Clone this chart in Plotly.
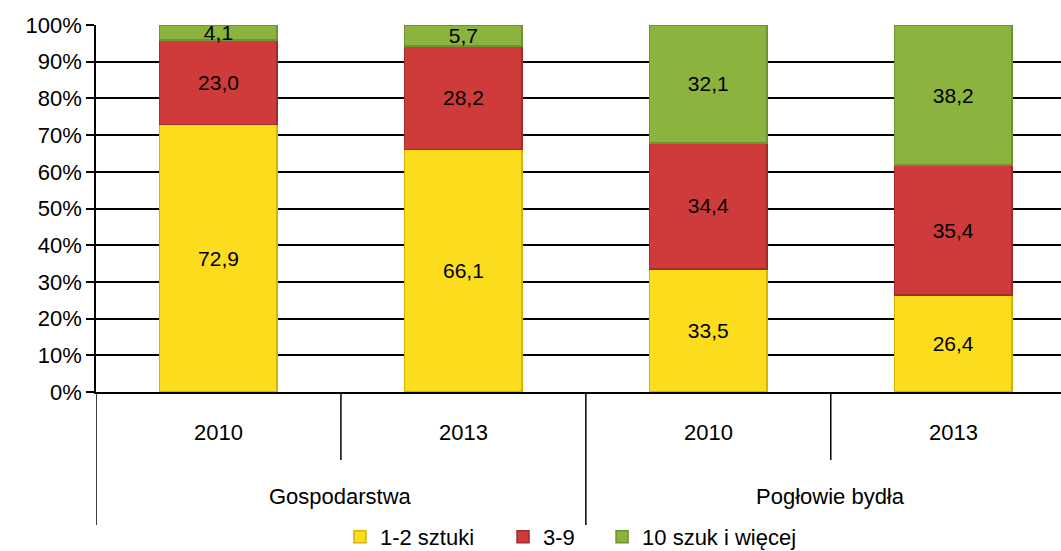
import plotly.graph_objects as go

groups = ["Gospodarstwa", "Pogłowie bydła"]
years = ["2010", "2013", "2010", "2013"]
series_names = ["1-2 sztuki", "3-9", "10 szuk i więcej"]
v_1_2 = [72.9, 66.1, 33.5, 26.4]
v_3_9 = [23.0, 28.2, 34.4, 35.4]
v_10 = [4.1, 5.7, 32.1, 38.2]
y_ticks = [0, 10, 20, 30, 40, 50, 60, 70, 80, 90, 100]

colors = ["#FCDD1E", "#CF3A3A", "#8CB33E"]
edge = ["#D4B400", "#A52A2A", "#6F9330"]
FONT = "Arial, Liberation Sans, sans-serif"

xpos = list(range(len(years)))
legend_ids = ["legend", "legend2", "legend3"]
legend_x = [0.2528, 0.4218, 0.5244]

fig = go.Figure()
for name, vals, c, e, lid in zip(series_names, [v_1_2, v_3_9, v_10], colors, edge, legend_ids):
    fig.add_trace(go.Bar(
        x=xpos, y=vals, name=name, width=0.48, legend=lid, showlegend=True,
        marker=dict(color=c, line=dict(color=e, width=1.5)),
        text=[f"{v:.1f}".replace(".", ",") for v in vals],
        textposition="inside", insidetextanchor="middle",
        textfont=dict(family=FONT, size=21, color="black"),
        constraintext="none", cliponaxis=False,
    ))

# plot area geometry (px) used to convert to paper units for axis decorations
W, H = 1061, 551
T, B = 25, 159
ph = H - T - B

def py(px_below):
    return -px_below / ph

shapes = []
# short ticks between years within a group
for i in range(len(years) - 1):
    if (i + 1) % 2 == 1:
        shapes.append(dict(type="line", xref="x", yref="paper", x0=i + 0.5, x1=i + 0.5,
                           y0=0, y1=py(68), line=dict(color="black", width=1.5)))
# long dividers between groups (and left edge)
for b in [-0.5, 1.5, 3.5]:
    shapes.append(dict(type="line", xref="x", yref="paper", x0=b, x1=b,
                       y0=0, y1=py(133), line=dict(color="black", width=1.5)))

annotations = []
for i, yr in enumerate(years):
    annotations.append(dict(x=i, y=py(40), xref="x", yref="paper", text=yr, showarrow=False,
                            yanchor="middle", font=dict(family=FONT, size=22, color="black")))
for g_i, g in enumerate(groups):
    annotations.append(dict(x=g_i * 2 + 0.5, y=py(105), xref="x", yref="paper", text=g,
                            showarrow=False, yanchor="middle",
                            font=dict(family=FONT, size=22, color="black")))

legend_style = dict(orientation="h", xanchor="left", y=py(145), yanchor="middle",
                    font=dict(family=FONT, size=22, color="black"), itemwidth=30,
                    bgcolor="rgba(0,0,0,0)", borderwidth=0, visible=True)

fig.update_layout(
    barmode="stack", showlegend=True,
    width=W, height=H,
    margin=dict(l=96, r=0, t=T, b=B, autoexpand=False),
    paper_bgcolor="white", plot_bgcolor="white",
    font=dict(family=FONT, size=22, color="black"),
    legend=dict(x=legend_x[0], **legend_style),
    legend2=dict(x=legend_x[1], **legend_style),
    legend3=dict(x=legend_x[2], **legend_style),
    shapes=shapes, annotations=annotations,
)
fig.update_yaxes(range=[0, 100], tickmode="array", tickvals=y_ticks,
                 ticktext=[f"{v}%" for v in y_ticks],
                 showgrid=True, gridcolor="black", gridwidth=1.5,
                 showline=True, linecolor="black", linewidth=1.5,
                 ticks="outside", ticklen=8, tickcolor="black", tickwidth=1.5,
                 tickfont=dict(size=22), zeroline=False)
fig.update_xaxes(range=[-0.5, 3.44], showline=True, linecolor="black", linewidth=1.5,
                 showticklabels=False, ticks="", showgrid=False, zeroline=False)

fig.write_html("out.html", config={"displayModeBar": False},
               post_script="document.body.style.margin='0';document.body.style.overflow='hidden';")
